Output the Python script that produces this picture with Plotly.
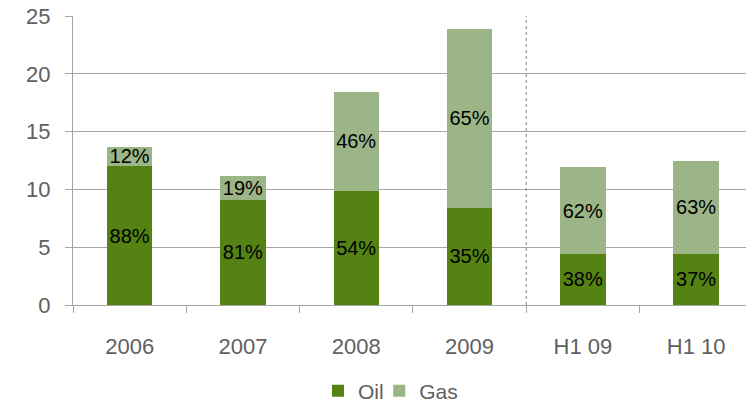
import plotly.graph_objects as go

categories = ["2006", "2007", "2008", "2009", "H1 09", "H1 10"]
oil = [12.0, 9.1, 9.9, 8.4, 4.45, 4.45]
gas = [1.7, 2.1, 8.55, 15.5, 7.45, 8.0]
oil_pct = ["88%", "81%", "54%", "35%", "38%", "37%"]
gas_pct = ["12%", "19%", "46%", "65%", "62%", "63%"]
y_ticks = [0, 5, 10, 15, 20, 25]

OIL_COLOR = "#548213"
GAS_COLOR = "#9CB587"
GRID = "#A6A6A6"
TXT = "#606060"
FONT = "Liberation Sans, Arial, sans-serif"

fig = go.Figure()
for vals, name, pct, col, lg in [(oil, "Oil", oil_pct, OIL_COLOR, "legend"),
                                 (gas, "Gas", gas_pct, GAS_COLOR, "legend2")]:
    fig.add_trace(go.Bar(
        x=categories, y=vals, name=name, text=pct, legend=lg, showlegend=True,
        marker=dict(color=col, line=dict(width=0)),
        textposition="inside", insidetextanchor="middle", textangle=0,
        constraintext="none",
        textfont=dict(color="black", size=20, family=FONT),
        width=0.4,
    ))

fig.add_vline(x=3.5, line=dict(color="#808080", width=1, dash="dot"))

legend_style = dict(orientation="h", xanchor="left", y=-0.298, yanchor="middle",
                    font=dict(size=21, color=TXT), itemwidth=30,
                    bgcolor="rgba(0,0,0,0)")

fig.update_layout(
    width=746, height=402,
    barmode="stack", showlegend=True,
    plot_bgcolor="white", paper_bgcolor="white",
    margin=dict(l=73, r=0, t=16, b=97, autoexpand=False),
    font=dict(family=FONT, color=TXT, size=22),
    uniformtext=dict(mode=False),
    legend=dict(x=0.364, **legend_style),
    legend2=dict(x=0.455, **legend_style),
    xaxis=dict(
        type="category", range=[-0.5, 5.44], automargin=False,
        showline=True, linecolor=GRID, linewidth=1,
        ticks="outside", tickson="boundaries", ticklen=7, tickcolor=GRID,
        showgrid=False, ticklabelstandoff=22,
        tickfont=dict(size=22, color=TXT),
    ),
    yaxis=dict(
        range=[0, 25], tickvals=y_ticks, showgrid=True, gridcolor=GRID, gridwidth=1,
        showline=True, linecolor=GRID, linewidth=1, automargin=False,
        ticks="outside", ticklen=7, tickcolor=GRID, ticklabelstandoff=10,
        ticklabeloverflow="allow",
        tickfont=dict(size=22, color=TXT), zeroline=False,
    ),
)

fig.write_html("out.html", config={"displayModeBar": False},
               post_script="document.body.style.margin='0';")
